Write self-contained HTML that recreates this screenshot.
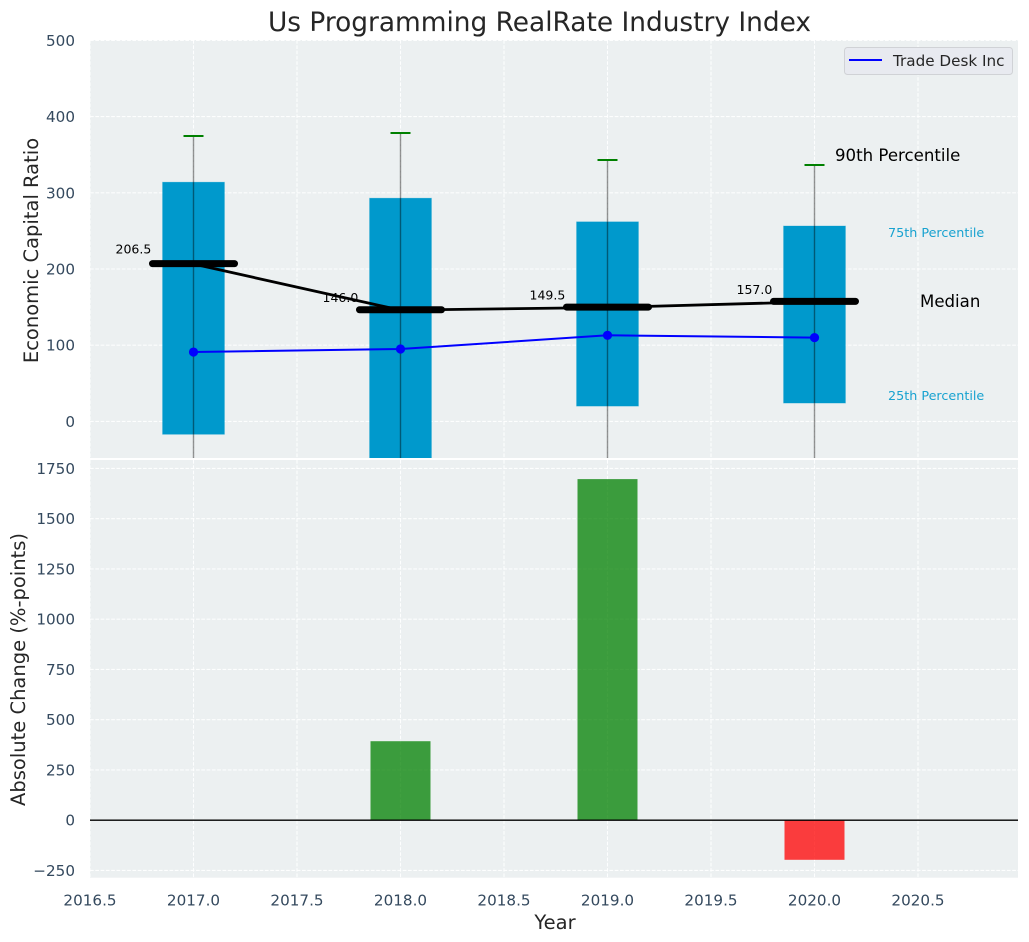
<!DOCTYPE html>
<html lang="en">
<head>
<meta charset="utf-8">
<title>Us Programming RealRate Industry Index</title>
<style>
html,body{margin:0;padding:0;background:#fff;width:1029px;height:942px;overflow:hidden}
svg{display:block;font-family:"DejaVu Sans","Liberation Sans",sans-serif}
</style>
</head>
<body>
<svg id="chart" xmlns="http://www.w3.org/2000/svg" width="1029" height="942" viewBox="0 0 1029 942">
<defs>
<clipPath id="clip-top"><rect x="90" y="40" width="928" height="418"/></clipPath>
<clipPath id="clip-bottom"><rect x="90" y="460" width="928" height="417.7"/></clipPath>
</defs>
</svg>
<script>
const years = [2017, 2018, 2019, 2020];
const p90 = [374.5, 378.5, 343, 336.5];
const q75 = [314, 293, 262, 256.5];
const median = [206.5, 146.0, 149.5, 157.0];
const q25 = [-17, -60, 20, 24];
const p10 = [-120, -150, -100, -90];
const company = [91, 95, 113, 110];
const change = [0, 393, 1697, -197];
const xTicks = [2016.5, 2017, 2017.5, 2018, 2018.5, 2019, 2019.5, 2020, 2020.5];
const yTicksTop = [0, 100, 200, 300, 400, 500];
const yTicksBottom = [-250, 0, 250, 500, 750, 1000, 1250, 1500, 1750];

const NS = 'http://www.w3.org/2000/svg';
const svgRoot = document.getElementById('chart');
const sx = v => 193.5 + (v - 2017) * 207;
const syTop = v => 421.4 - v * 0.762;
const syBottom = v => 820.2 - v * 0.201;
const TICK_FONT = 15.2;
const AXIS_FONT = 19.5;
function mk(tag, attrs, parent) {
  const n = document.createElementNS(NS, tag);
  for (const k in attrs) n.setAttribute(k, attrs[k]);
  (parent || svgRoot).appendChild(n);
  return n;
}
function fmtTick(v) { return v < 0 ? '\u2212' + Math.abs(v) : String(v); }
let el;

el = mk('g', {});


const topPanel = el;
el = mk('g', {});


const bottomPanel = el;

el = mk('rect', {x: 90, y: 40, width: 928, height: 418, fill: '#ecf0f1'}, topPanel);


el = mk('rect', {x: 90, y: 460, width: 928, height: 417.7, fill: '#ecf0f1'}, bottomPanel);



const gridStyle = {stroke: '#ffffff', 'stroke-width': 1.1, 'stroke-dasharray': '3.7 1.6', 'stroke-opacity': 0.9};

xTicks.forEach(t => {
  el = mk('line', Object.assign({x1: sx(t), x2: sx(t), y1: 40, y2: 458}, gridStyle), topPanel);
  
  
  el = mk('line', Object.assign({x1: sx(t), x2: sx(t), y1: 460, y2: 877.7}, gridStyle), bottomPanel);
  
  
  el = mk('text', {x: sx(t), y: 905.3, 'text-anchor': 'middle', 'font-size': TICK_FONT, fill: '#34495e'}, bottomPanel);
  el.textContent = t.toFixed(1);
  
  
});

yTicksTop.forEach(t => {
  el = mk('line', Object.assign({x1: 90, x2: 1018, y1: syTop(t), y2: syTop(t)}, gridStyle), topPanel);
  
  
  el = mk('text', {x: 75, y: syTop(t) + 5.5, 'text-anchor': 'end', 'font-size': TICK_FONT, fill: '#34495e'}, topPanel);
  el.textContent = fmtTick(t);
  
  
});

yTicksBottom.forEach(t => {
  el = mk('line', Object.assign({x1: 90, x2: 1018, y1: syBottom(t), y2: syBottom(t)}, gridStyle), bottomPanel);
  
  
  el = mk('text', {x: 75, y: syBottom(t) + 5.5, 'text-anchor': 'end', 'font-size': TICK_FONT, fill: '#34495e'}, bottomPanel);
  el.textContent = fmtTick(t);
  
  
});

el = mk('g', {'clip-path': 'url(#clip-top)'}, topPanel);


const topMarks = el;

years.forEach((y, i) => {
  const a = syTop(q75[i]), b = syTop(q25[i]);
  el = mk('rect', {x: sx(y) - 31, y: a, width: 62, height: b - a, fill: '#0099cc', stroke: '#0099cc', 'stroke-opacity': 0.2, 'stroke-width': 1}, topMarks);
  
  
});

years.forEach((y, i) => {
  el = mk('line', {x1: sx(y), x2: sx(y), y1: syTop(p90[i]), y2: syTop(p10[i]), stroke: '#000', 'stroke-opacity': 0.42, 'stroke-width': 1.4}, topMarks);
  
  
  el = mk('line', {x1: sx(y) - 10, x2: sx(y) + 10, y1: syTop(p90[i]), y2: syTop(p90[i]), stroke: '#008000', 'stroke-width': 2}, topMarks);
  
  
});

years.forEach((y, i) => {
  const lift = i === 0 ? 10.5 : 8;
  el = mk('text', {x: sx(y) - 78, y: syTop(median[i]) - lift, 'font-size': 12.5, fill: '#000'}, topMarks);
  el.textContent = median[i].toFixed(1);
  
  
});

el = mk('polyline', {points: years.map((y, i) => sx(y) + ',' + syTop(median[i])).join(' '), fill: 'none', stroke: '#000', 'stroke-width': 2.8}, topMarks);



years.forEach((y, i) => {
  el = mk('line', {x1: sx(y) - 41, x2: sx(y) + 41, y1: syTop(median[i]) - 0.4, y2: syTop(median[i]) - 0.4, stroke: '#000', 'stroke-width': 7, 'stroke-linecap': 'round'}, topMarks);
  
  
});

el = mk('polyline', {points: years.map((y, i) => sx(y) + ',' + syTop(company[i])).join(' '), fill: 'none', stroke: '#0000ff', 'stroke-width': 2}, topMarks);



years.forEach((y, i) => {
  el = mk('circle', {cx: sx(y), cy: syTop(company[i]), r: 4.6, fill: '#0000ff'}, topMarks);
  
  
});

el = mk('text', {x: 835, y: 161, 'font-size': 16.6, fill: '#000'}, topPanel);
el.textContent = '90th Percentile';


el = mk('text', {x: 888, y: 237, 'font-size': 12.75, fill: '#0099cc', 'fill-opacity': 0.9}, topPanel);
el.textContent = '75th Percentile';


el = mk('text', {x: 920, y: 307, 'font-size': 16.6, fill: '#000'}, topPanel);
el.textContent = 'Median';


el = mk('text', {x: 888, y: 400, 'font-size': 12.75, fill: '#0099cc', 'fill-opacity': 0.9}, topPanel);
el.textContent = '25th Percentile';



el = mk('g', {}, topPanel);


const legendGroup = el;
el = mk('rect', {x: 844.5, y: 47.5, width: 168, height: 27, rx: 3, fill: '#e8eaf0', stroke: '#d0d2d6', 'stroke-width': 1}, legendGroup);


el = mk('line', {x1: 849, x2: 882, y1: 60, y2: 60, stroke: '#0000ff', 'stroke-width': 2}, legendGroup);


el = mk('text', {x: 893, y: 66, 'font-size': TICK_FONT, fill: '#262626'}, legendGroup);
el.textContent = 'Trade Desk Inc';



el = mk('g', {'clip-path': 'url(#clip-bottom)'}, bottomPanel);


const bottomMarks = el;

years.forEach((y, i) => {
  const v = change[i];
  const a = syBottom(Math.max(v, 0)), b = syBottom(Math.min(v, 0));
  el = mk('rect', {x: sx(y) - 30, y: a, width: 60, height: b - a, fill: v >= 0 ? '#008000' : '#ff0000', 'fill-opacity': 0.75}, bottomMarks);
  
  
});

el = mk('line', {x1: 90, x2: 1018, y1: syBottom(0), y2: syBottom(0), stroke: '#000', 'stroke-width': 1.4}, bottomMarks);



el = mk('text', {x: 539.5, y: 31, 'text-anchor': 'middle', 'font-size': 26.4, fill: '#262626'});
el.textContent = 'Us Programming RealRate Industry Index';



el = mk('text', {x: 555, y: 929, 'text-anchor': 'middle', 'font-size': AXIS_FONT, fill: '#262626'});
el.textContent = 'Year';



el = mk('text', {x: 0, y: 0, transform: 'translate(38 250.5) rotate(-90)', 'text-anchor': 'middle', 'font-size': AXIS_FONT, fill: '#262626'});
el.textContent = 'Economic Capital Ratio';



el = mk('text', {x: 0, y: 0, transform: 'translate(25 669.5) rotate(-90)', 'text-anchor': 'middle', 'font-size': AXIS_FONT, fill: '#262626'});
el.textContent = 'Absolute Change (%-points)';


</script>
</body>
</html>
